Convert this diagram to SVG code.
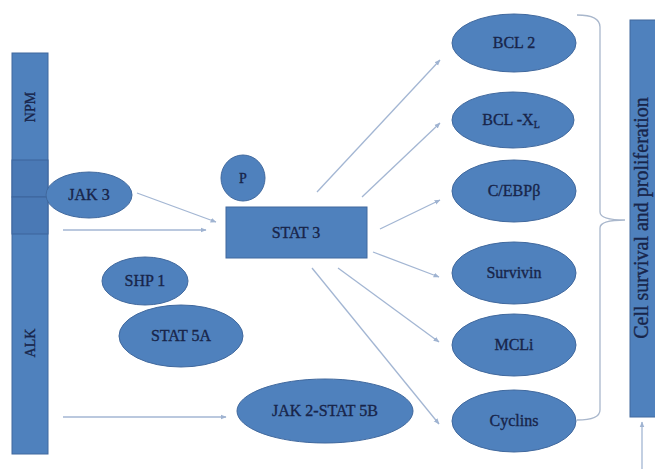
<svg xmlns="http://www.w3.org/2000/svg" width="655" height="469" viewBox="0 0 655 469">
<defs>
<marker id="ah" viewBox="0 0 10 10" refX="9" refY="5" markerWidth="6" markerHeight="6" orient="auto" markerUnits="userSpaceOnUse">
<path d="M0,1 L10,5 L0,9 z" fill="#9fb3d1"/>
</marker>
<style>
.n{fill:#4f81bd;stroke:#41699e;stroke-width:1}
.seg{fill:#4a79b5;stroke:#3d659b;stroke-width:1}
.t{font-family:"Liberation Serif","Times New Roman",serif;font-size:16px;fill:#18254a;stroke:#18254a;stroke-width:0.35;text-anchor:middle}
.c line{stroke:#a3b6d3;stroke-width:1.3;marker-end:url(#ah)}
.br{fill:none;stroke:#a9b7cc;stroke-width:1.3}
</style>
</defs>
<rect width="655" height="469" fill="#ffffff"/>

<g id="fusion-bar">
<rect class="n" x="12" y="53" width="36" height="401"/>
<rect class="seg" x="12" y="160" width="36" height="37"/>
<rect class="seg" x="12" y="197" width="36" height="37"/>
<text class="t" style="font-size:14px" transform="translate(35,107) rotate(-90)">NPM</text>
<text class="t" style="font-size:14px" transform="translate(35,343) rotate(-90)">ALK</text>
</g>

<g id="jak3"><ellipse class="n" cx="89" cy="195" rx="43" ry="23"/><text class="t" x="89" y="200">JAK 3</text></g>
<g id="p"><ellipse class="n" cx="243" cy="178" rx="22" ry="23"/><text class="t" style="font-size:14px" x="243" y="183">P</text></g>
<g id="stat3"><rect class="n" x="226" y="207" width="141" height="51"/><text class="t" x="296" y="238">STAT 3</text></g>
<g id="shp1"><ellipse class="n" cx="145" cy="281" rx="43" ry="24"/><text class="t" x="145" y="286">SHP 1</text></g>
<g id="stat5a"><ellipse class="n" cx="181" cy="336" rx="62" ry="31"/><text class="t" x="181" y="341">STAT 5A</text></g>
<g id="jak2stat5b"><ellipse class="n" cx="325" cy="411" rx="88" ry="32"/><text class="t" x="325" y="416">JAK 2-STAT 5B</text></g>

<g id="bcl2"><ellipse class="n" cx="514" cy="43" rx="62" ry="29"/><text class="t" x="514" y="48">BCL 2</text></g>
<g id="bclxl"><ellipse class="n" cx="513" cy="120" rx="61" ry="28"/><text class="t" x="511" y="125">BCL -X<tspan style="font-size:10px" dy="3">L</tspan></text></g>
<g id="cebpb"><ellipse class="n" cx="514" cy="191" rx="62" ry="31"/><text class="t" x="514" y="196">C/EBPβ</text></g>
<g id="survivin"><ellipse class="n" cx="514" cy="273" rx="62" ry="31"/><text class="t" x="514" y="278">Survivin</text></g>
<g id="mcli"><ellipse class="n" cx="514" cy="345" rx="62" ry="31"/><text class="t" x="514" y="350">MCLi</text></g>
<g id="cyclins"><ellipse class="n" cx="514" cy="421" rx="62" ry="31"/><text class="t" x="514" y="426">Cyclins</text></g>

<g id="cell-survival">
<rect class="n" x="630" y="20" width="30" height="397"/>
<text class="t" style="font-size:20px" transform="translate(648,218) rotate(-90)">Cell  survival and proliferation</text>
</g>

<g id="brace">
<path class="br" d="M577,15 Q600,15 600,27 L600,212 Q600,220 625,220 Q600,220 600,228 L600,410 Q600,420 577,420"/>
</g>

<g id="connectors" class="c">
<line x1="137" y1="193" x2="216" y2="222"/>
<line x1="63" y1="230" x2="206" y2="230"/>
<line x1="63" y1="417" x2="226" y2="417"/>
<line x1="317" y1="192" x2="440" y2="60"/>
<line x1="362" y1="197" x2="440" y2="123"/>
<line x1="380" y1="229" x2="440" y2="200"/>
<line x1="373" y1="252" x2="439" y2="277"/>
<line x1="338" y1="268" x2="439" y2="342"/>
<line x1="312" y1="268" x2="439" y2="424"/>
<line x1="642" y1="469" x2="642" y2="422"/>
</g>
</svg>
